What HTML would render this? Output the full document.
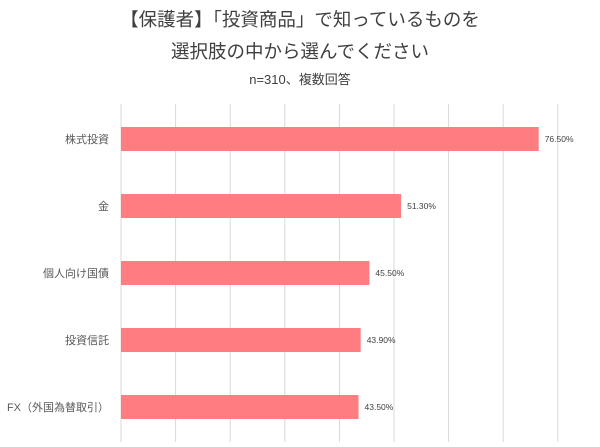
<!DOCTYPE html>
<html><head><meta charset="utf-8"><style>
body{margin:0;background:#fff;width:600px;height:442px;overflow:hidden;font-family:"Liberation Sans","Noto Sans CJK JP",sans-serif;}
</style></head><body>
<svg width="600" height="442" id="c">
<text x="300" y="26" text-anchor="middle" font-size="18.5" fill="#404040">【保護者】「投資商品」で知っているものを</text>
<text x="300" y="58" text-anchor="middle" font-size="18.5" fill="#404040">選択肢の中から選んでください</text>
<text x="300" y="84" text-anchor="middle" font-size="13" fill="#404040">n=310、複数回答</text>
</svg>
<script>
const categories=["株式投資","金","個人向け国債","投資信託","FX（外国為替取引）"];
const values=[76.5,51.3,45.5,43.9,43.5];
const labels=["76.50%","51.30%","45.50%","43.90%","43.50%"];
const gridTicks=[0,10,20,30,40,50,60,70,80,90];
const svg=document.getElementById('c');const NS="http://www.w3.org/2000/svg";
const x=v=>121+v*5.46;
const y=i=>139+i*67;
function mk(t,a){const e=document.createElementNS(NS,t);for(const k in a)e.setAttribute(k,a[k]);svg.appendChild(e);return e;}
gridTicks.forEach(t=>{const g=mk('line',{x1:x(t),x2:x(t),y1:104,y2:442,stroke:'#d9d9d9','stroke-width':1});

});
categories.forEach((c,i)=>{
const b=mk('rect',{x:x(0),y:y(i)-12,width:x(values[i])-x(0),height:24,fill:'#ff7c80'});


const l=mk('text',{x:109,y:y(i)+4,'text-anchor':'end','font-size':11,fill:'#595959'});l.textContent=c;


const v=mk('text',{x:x(values[i])+6,y:y(i)+3,'font-size':8.5,fill:'#404040'});v.textContent=labels[i];


});
</script>
</body></html>
